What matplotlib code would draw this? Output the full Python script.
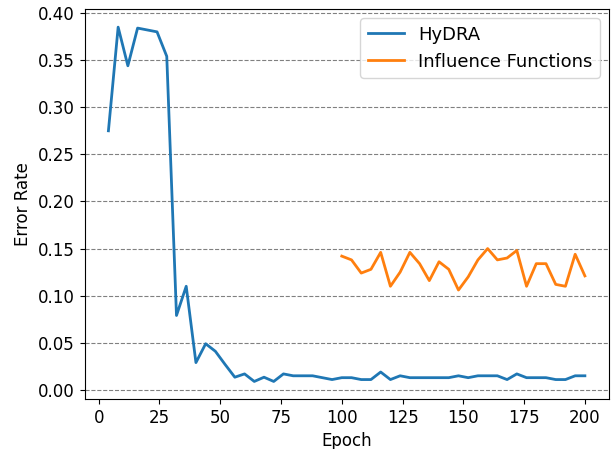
import matplotlib
matplotlib.use("Agg")
import matplotlib.pyplot as plt

hydra_epochs = list(range(4, 201, 4))
hydra_err = [0.275, 0.385, 0.344, 0.384, 0.382, 0.380, 0.354, 0.079, 0.110, 0.029,
             0.049, 0.041, 0.027, 0.0135, 0.017, 0.009, 0.0135, 0.009, 0.017, 0.015,
             0.015, 0.015, 0.013, 0.011, 0.013, 0.013, 0.011, 0.011, 0.019, 0.011,
             0.015, 0.013, 0.013, 0.013, 0.013, 0.013, 0.015, 0.013, 0.015, 0.015,
             0.015, 0.011, 0.017, 0.013, 0.013, 0.013, 0.011, 0.011, 0.015, 0.015]

inf_epochs = list(range(100, 201, 4))
inf_err = [0.142, 0.138, 0.124, 0.128, 0.146, 0.110, 0.125, 0.146, 0.134, 0.116,
           0.136, 0.128, 0.106, 0.120, 0.138, 0.150, 0.138, 0.140, 0.148, 0.110,
           0.134, 0.134, 0.112, 0.110, 0.144, 0.121]

plt.rcParams['font.size'] = 12
fig = plt.figure(figsize=(6.13, 4.49), dpi=100)
ax = fig.add_axes([0.138, 0.111, 0.855, 0.868])
ax.plot(hydra_epochs, hydra_err, label='HyDRA', color='#1f77b4', linewidth=2)
ax.plot(inf_epochs, inf_err, label='Influence Functions', color='#ff7f0e', linewidth=2)
ax.yaxis.grid(True, linestyle='--', color='gray')
ax.set_axisbelow(True)
ax.set_xlabel('Epoch')
ax.set_ylabel('Error Rate')
ax.set_xticks([0, 25, 50, 75, 100, 125, 150, 175, 200])
ax.legend(loc='upper right', fontsize=13)
fig.savefig('out.png', dpi=100)
